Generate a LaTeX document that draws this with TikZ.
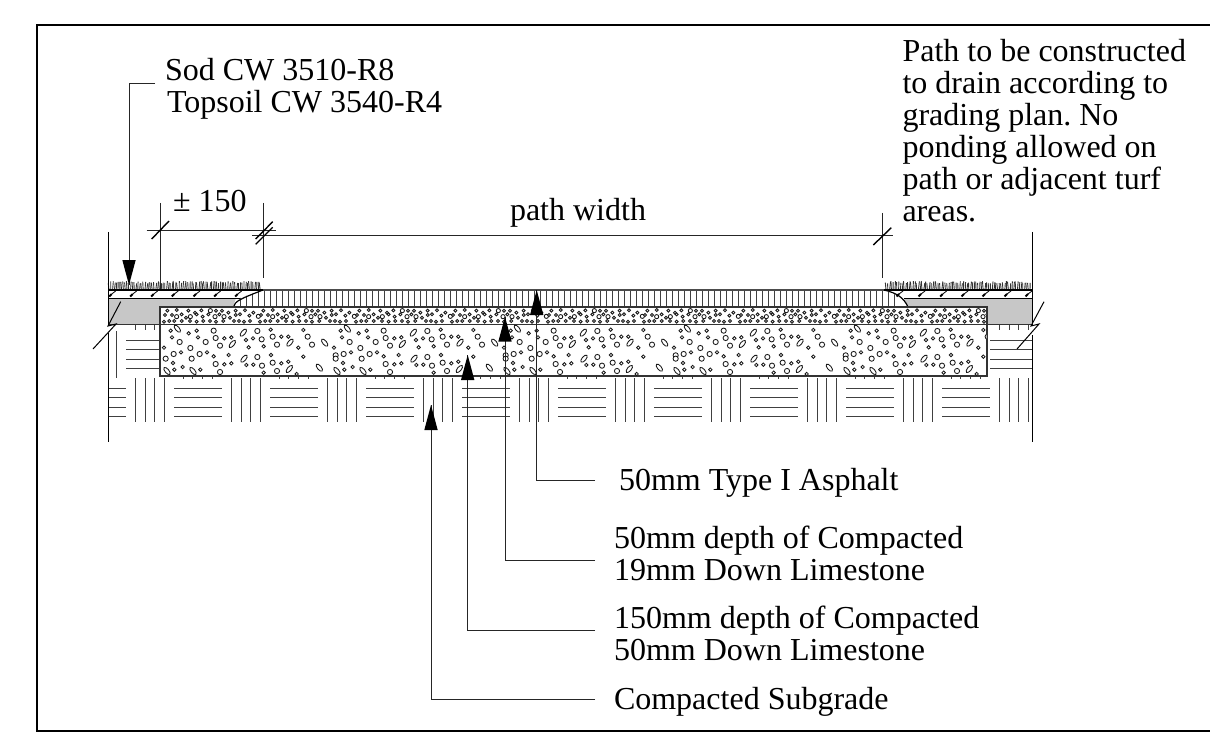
\documentclass[tikz,border=0pt]{standalone}
\usepackage{fontspec}
\setmainfont{Liberation Serif}
\frenchspacing
\tikzset{
 lbl/.style={inner sep=0pt,outer sep=0pt,anchor=base west,font=\fontsize{32}{34}\selectfont},
 thin line/.style={line width=1pt,color=black!85},
 hatch/.style={line width=1pt,color=black!75},
 tip/.style={fill=black,draw=none},
 stone/.style={line width=0.85pt,draw=black!90,fill=white},
 frameline/.style={line width=2.4pt,draw=black},
}
\begin{document}
\begin{tikzpicture}[x=1pt,y=-1pt]
\useasboundingbox (0,0) rectangle (1210,738);
\fill[white] (0,0) rectangle (1210,738);
\draw[frameline] (1210,25) -- (37,25) -- (37,730.7) -- (1210,730.7);
% subgrade hatch
\foreach \gk in {0,...,9}{
 \pgfmathsetmacro\bx{135.7+96*\gk}
 \foreach \gd in {0,9.6,19.2,28.8} \draw[hatch] ({\bx+\gd},378) -- ({\bx+\gd},422);
}
\foreach \gk in {0,...,8}{
 \pgfmathsetmacro\bx{135.7+96*\gk}
 \foreach \yy in {388,397.7,407.3,416.7} \draw[hatch] ({\bx+38.4},\yy) -- ({\bx+86.4},\yy);
 \foreach \gd in {47.6,57.2,66.8,76.4} \draw[hatch] ({\bx+\gd},376) -- ({\bx+\gd},379);
}
\foreach \yy in {388,397.7,407.3,416.7}{
 \draw[hatch] (108,\yy) -- (126,\yy);
}
\foreach \yy in {340,349.3,359.3,368.7}{
 \draw[hatch] (126,\yy) -- (160,\yy);
 \draw[hatch] (990,\yy) -- (1032,\yy);
}
\draw[hatch] (116.7,331) -- (116.7,378);
\foreach \x in {135.7,145.3,154.9,999.7,1009.3,1018.9,1028.5} \draw[hatch] (\x,325) -- (\x,330);
% grey
\fill[black!22] (108,298) -- (236,298) -- (233,307) -- (160,307) -- (160,324.5) -- (108,324.5) -- cycle;
\fill[black!22] (904,298) -- (1032,298) -- (1032,324.5) -- (987,324.5) -- (987,307) -- (908,307) -- cycle;
% asphalt
\foreach \x in {240,246,...,896} \draw[hatch] (\x,290) -- (\x,307);
\fill[white] (108,280) -- (263,280) -- (263,290) -- (240,298) -- (108,298) -- cycle;
\fill[white] (884,280) -- (1032,280) -- (1032,298) -- (904,298) -- (884,290) -- cycle;
\fill[black!22] (904,298) -- (908,307) -- (960,307) -- (960,298) -- cycle;
\draw[line width=1.4pt,color=black!70] (263,290) -- (884,290);
\draw[line width=1.2pt] (233.5,307) .. controls (235,301) and (240,299) .. (263,290);
\draw[line width=1.2pt] (884,290) .. controls (897,293) and (904,298) .. (908,307);
% grass
\pgfmathsetseed{7}
\foreach \x in {109,110.8,...,262} {\pgfmathsetmacro\hh{281+rnd*2.5}\pgfmathsetmacro\dx{(rnd-0.5)*2}\draw[line width=.9pt,color=black!80] (\x,290) -- ({\x+\dx},\hh);}
\foreach \x in {886,887.8,...,1031} {\pgfmathsetmacro\hh{281+rnd*2.5}\pgfmathsetmacro\dx{(rnd-0.5)*2}\draw[line width=.9pt,color=black!80] (\x,290) -- ({\x+\dx},\hh);}
% sod
\draw[line width=2pt] (108,289.5) -- (263,289.5);
\draw[line width=2pt] (884,289.5) -- (1032,289.5);
\draw[line width=1pt] (108,298) -- (240,298);
\draw[line width=1pt] (904,298) -- (1032,298);
\foreach \x in {110.7,131.7,152.7,173.3,195,215.7,236.7,898,920,941.7,963,984,1006,1027}{
 \draw[line width=2pt] (\x-1.5,296.5) -- (\x+1,294);
 \draw[line width=.8pt] (\x+1,294) -- (\x+5,291);
}
% stone layers
\draw[line width=1.1pt,color=black!80] (160,307) -- (987,307) -- (987,376) -- (160,376) -- cycle;
\draw[line width=1.1pt,color=black!80] (108,324.5) -- (1032,324.5);
\begin{scope}
\clip (160.5,307.5) rectangle (986.5,375.5);
\foreach \gk in {0,...,8}{
 \begin{scope}[shift={(96*\gk,0)}]
 \foreach \a/\b in {232/272,260/270,295/272,315/278,334/271,378/272,396/272,415/278,437/272,465/271,490/278,225/285,246/285,275/283,288/293,320/283,338/290,355/283,388/283,420/293,437/285,450/283,478/287,222/305,238/303,253/303,275/303,300/303,320/305,340/303,360/303,378/305,400/303,432/303,447/303,462/305,480/303}
   \draw[stone] (\a/3+90,\b/3+220) circle (1.5);
 \foreach \a/\b in {260/290,301/290,361/272,375/290,402/290,505/289}
   \draw[stone] (\a/3+90,\b/3+220) circle (2.1);
 \end{scope}
}
\foreach \gk in {0,...,5}{
 \begin{scope}[shift={(170*\gk,0)}]
 \foreach \a/\b in {242/332,296/340,320/332,246/352,324/352,403/355,424/352,222/383,273/397,351/397,371/409,416/405,249/429,403/433,424/430,278/441,253/449,331/449,468/360,542/329,489/355,574/350,595/350,476/382,521/379,543/405,469/435,490/434,574/430,595/425,521/458,620/462,640/330,625/383,640/410}
   \draw[stone] (\a/3+90,\b/3+220) circle (1.7);
 \foreach \a/\b in {371/332,269/366,347/366,377/354,390/377,301/384,251/402,329/402,227/416,305/416,377/432,390/456,502/333,515/358,548/350,561/374,502/411,516/437,548/428,561/453,653/350,666/374,737/406}
   \draw[stone] (\a/3+90,\b/3+220) circle (2.6);
 \foreach \a/\b/\c in {262/326/-50,460/338/50,427/372/50,462/416/50,231/453/-50,309/453/-50,600/368/50,598/447/50,704/368/-50,688/443/-50}
   \draw[stone,rotate around={\c:(\a/3+90,\b/3+220)}] (\a/3+90,\b/3+220) ellipse (4.4 and 2);
 \end{scope}
}
\end{scope}
% side verticals with breaks
\draw[line width=1pt] (108,232) -- (108,325);
\draw[line width=1pt] (108,333) -- (108,442);
\draw[line width=1pt] (1032,232) -- (1032,325);
\draw[line width=1pt] (1032,335) -- (1032,442);
\draw[line width=1pt] (120.7,301.7) -- (108,326) -- (116,324) -- (93,349);
\draw[line width=1pt] (1044,301.7) -- (1031,326) -- (1039,324) -- (1017,349);
% dimensions
\coordinate (e1a) at (160,203); \coordinate (e1b) at (160,289);
\coordinate (e2a) at (263,203); \coordinate (e2b) at (263,278);
\coordinate (e3a) at (882,213); \coordinate (e3b) at (882,278);
\draw[thin line] (e1a) -- (e1b);
\draw[thin line] (e2a) -- (e2b);
\draw[thin line] (e3a) -- (e3b);
\draw[thin line] (146.7,230.5) -- (276,230.5);
\draw[thin line] (252,236) -- (893,236);
\draw[line width=1.4pt] (151.7,239) -- (169,221);
\draw[line width=1.4pt] (255.7,239) -- (272.7,221.7);
\draw[line width=1.4pt] (255.7,244.3) -- (272.7,227.3);
\draw[line width=1.4pt] (873.3,245) -- (891.3,227.7);
% text
\node[lbl] (sod) at (165,80.7) {Sod CW 3510-R8};
\node[lbl] (top) at (167,112.7) {Topsoil CW 3540-R4};
\node[lbl] (pm) at (173,211.7) {± 150};
\node[lbl] (pw) at (510,221) {path width};
\node[lbl] (n1) at (902.5,62) {Path to be constructed};
\node[lbl] (n2) at (902.5,94) {to drain according to};
\node[lbl] (n3) at (902.5,126) {grading plan. No};
\node[lbl] (n4) at (902.5,158) {ponding allowed on};
\node[lbl] (n5) at (902.5,190) {path or adjacent turf};
\node[lbl] (n6) at (902.5,222) {areas.};
\node[lbl] (asp) at (619,490) {50mm Type I Asphalt};
\node[lbl] (l1) at (614,548) {50mm depth of Compacted};
\node[lbl] (l2) at (614,580.7) {19mm Down Limestone};
\node[lbl] (l3) at (614,628) {150mm depth of Compacted};
\node[lbl] (l4) at (614,660) {50mm Down Limestone};
\node[lbl] (sub) at (614,709) {Compacted Subgrade};
% leaders
\coordinate (t0) at (129,285);
\coordinate (t1) at (536.7,290);
\coordinate (t2) at (505,316.7);
\coordinate (t3) at (467.7,355);
\coordinate (t4) at (431,405);
\draw[thin line] (155,84) -- (129,84) -- (t0);
\fill[tip] (t0) -- ++(-6.7,-25) -- ++(13.4,0) -- cycle;
\draw[thin line] (595,480) -- (536.7,480) -- (t1);
\fill[tip] (t1) -- ++(-6.7,25) -- ++(13.4,0) -- cycle;
\draw[thin line] (595,560) -- (505,560) -- (t2);
\fill[tip] (t2) -- ++(-6.7,25) -- ++(13.4,0) -- cycle;
\draw[thin line] (595,630) -- (467.7,630) -- (t3);
\fill[tip] (t3) -- ++(-6.7,25) -- ++(13.4,0) -- cycle;
\draw[thin line] (595,699) -- (431,699) -- (t4);
\fill[tip] (t4) -- ++(-6.7,25) -- ++(13.4,0) -- cycle;
\end{tikzpicture}
\end{document}
